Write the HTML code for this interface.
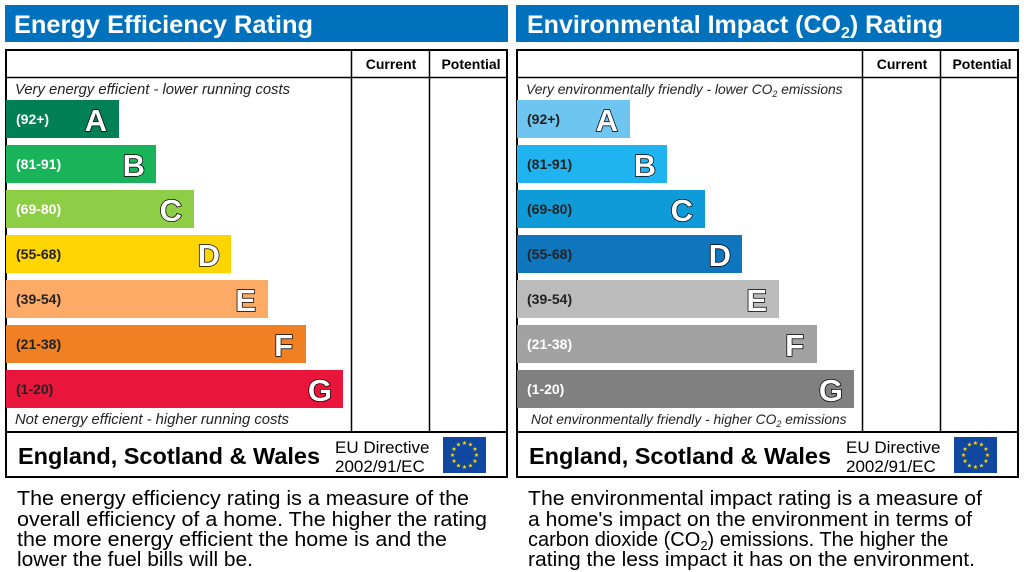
<!DOCTYPE html>
<html><head><style>body{margin:0;background:#fff}svg{display:block}</style></head><body>
<svg width="1024" height="572" viewBox="0 0 1024 572" xmlns="http://www.w3.org/2000/svg" font-family="Liberation Sans, Arial, sans-serif">
<defs>
<g id="eu"><rect width="43" height="36" fill="#0f47a1"/>
<g fill="#ffdd00" font-size="6" text-anchor="middle">
<text x="21.5" y="8">★</text><text x="27.5" y="9.6">★</text><text x="31.9" y="14">★</text><text x="33.5" y="20">★</text><text x="31.9" y="26">★</text><text x="27.5" y="30.4">★</text><text x="21.5" y="32">★</text><text x="15.5" y="30.4">★</text><text x="11.1" y="26">★</text><text x="9.5" y="20">★</text><text x="11.1" y="14">★</text><text x="15.5" y="9.6">★</text>
</g></g>
</defs>
<!-- LEFT -->
<g>
<rect x="5" y="5" width="503" height="37" fill="#0071bc"/>
<text x="14" y="33" fill="#fff" font-size="25" font-weight="bold" textLength="299" lengthAdjust="spacingAndGlyphs">Energy Efficiency Rating</text>
<rect x="6" y="50" width="501" height="427" fill="#fff" stroke="#000" stroke-width="2"/>
<line x1="6" y1="77.5" x2="507" y2="77.5" stroke="#000" stroke-width="1.5"/>
<line x1="351.5" y1="50" x2="351.5" y2="432" stroke="#000" stroke-width="1.5"/>
<line x1="429.5" y1="50" x2="429.5" y2="432" stroke="#000" stroke-width="1.5"/>
<line x1="6" y1="432" x2="507" y2="432" stroke="#000" stroke-width="2"/>
<text x="391" y="69" font-size="14" font-weight="bold" text-anchor="middle">Current</text>
<text x="471" y="69" font-size="14" font-weight="bold" text-anchor="middle">Potential</text>
<text x="15" y="94" font-size="14.8" font-style="italic" fill="#222">Very energy efficient - lower running costs</text>
<text x="15" y="424" font-size="14.8" font-style="italic" fill="#222">Not energy efficient - higher running costs</text>
<g font-weight="bold">
<rect x="6" y="100" width="113" height="38" fill="#008054"/><text x="16" y="124" font-size="14" fill="#fff">(92+)</text>
<rect x="6" y="145" width="150" height="38" fill="#19b459"/><text x="16" y="169" font-size="14" fill="#fff">(81-91)</text>
<rect x="6" y="190" width="188" height="38" fill="#8dce46"/><text x="16" y="214" font-size="14" fill="#fff">(69-80)</text>
<rect x="6" y="235" width="225" height="38" fill="#ffd500"/><text x="16" y="259" font-size="14" fill="#222">(55-68)</text>
<rect x="6" y="280" width="262" height="38" fill="#fcaa65"/><text x="16" y="304" font-size="14" fill="#222">(39-54)</text>
<rect x="6" y="325" width="300" height="38" fill="#ef8023"/><text x="16" y="349" font-size="14" fill="#222">(21-38)</text>
<rect x="6" y="370" width="337" height="38" fill="#e9153b"/><text x="16" y="394" font-size="14" fill="#222">(1-20)</text>
<g font-size="31" fill="#fff" stroke="#000" stroke-width="1.5" paint-order="stroke" text-anchor="end">
<text x="107" y="131">A</text><text x="145" y="176">B</text><text x="182" y="221">C</text><text x="220" y="266">D</text><text x="256" y="311">E</text><text x="293" y="356">F</text><text x="332" y="401">G</text>
</g></g>
<text x="18" y="464" font-size="23.5" font-weight="bold">England, Scotland &amp; Wales</text>
<text x="335" y="453" font-size="17">EU Directive</text>
<text x="335" y="472" font-size="17">2002/91/EC</text>
<use href="#eu" x="443" y="437"/>
<g font-size="20" fill="#000">
<text x="17" y="505" textLength="452" lengthAdjust="spacingAndGlyphs">The energy efficiency rating is a measure of the</text>
<text x="17" y="526" textLength="470" lengthAdjust="spacingAndGlyphs">overall efficiency of a home. The higher the rating</text>
<text x="17" y="546" textLength="430" lengthAdjust="spacingAndGlyphs">the more energy efficient the home is and the</text>
<text x="17" y="566" textLength="236" lengthAdjust="spacingAndGlyphs">lower the fuel bills will be.</text>
</g>
</g>
<!-- RIGHT -->
<g transform="translate(511,0)">
<rect x="5" y="5" width="503" height="37" fill="#0071bc"/>
<text x="16" y="33" fill="#fff" font-size="25" font-weight="bold">Environmental Impact (CO<tspan font-size="16" dy="5">2</tspan><tspan dy="-5">) Rating</tspan></text>
<rect x="6" y="50" width="501" height="427" fill="#fff" stroke="#000" stroke-width="2"/>
<line x1="6" y1="77.5" x2="507" y2="77.5" stroke="#000" stroke-width="1.5"/>
<line x1="351.5" y1="50" x2="351.5" y2="432" stroke="#000" stroke-width="1.5"/>
<line x1="429.5" y1="50" x2="429.5" y2="432" stroke="#000" stroke-width="1.5"/>
<line x1="6" y1="432" x2="507" y2="432" stroke="#000" stroke-width="2"/>
<text x="391" y="69" font-size="14" font-weight="bold" text-anchor="middle">Current</text>
<text x="471" y="69" font-size="14" font-weight="bold" text-anchor="middle">Potential</text>
<text x="15" y="94" font-size="13.8" font-style="italic" fill="#222">Very environmentally friendly - lower CO<tspan font-size="9" dy="3">2</tspan><tspan dy="-3"> emissions</tspan></text>
<text x="20" y="424" font-size="13.8" font-style="italic" fill="#222">Not environmentally friendly - higher CO<tspan font-size="9" dy="3">2</tspan><tspan dy="-3"> emissions</tspan></text>
<g font-weight="bold">
<rect x="6" y="100" width="113" height="38" fill="#6ec6f0"/><text x="16" y="124" font-size="14" fill="#222">(92+)</text>
<rect x="6" y="145" width="150" height="38" fill="#1fb3ef"/><text x="16" y="169" font-size="14" fill="#222">(81-91)</text>
<rect x="6" y="190" width="188" height="38" fill="#0e9bd8"/><text x="16" y="214" font-size="14" fill="#222">(69-80)</text>
<rect x="6" y="235" width="225" height="38" fill="#0f75bc"/><text x="16" y="259" font-size="14" fill="#222">(55-68)</text>
<rect x="6" y="280" width="262" height="38" fill="#bbbbbb"/><text x="16" y="304" font-size="14" fill="#222">(39-54)</text>
<rect x="6" y="325" width="300" height="38" fill="#a2a2a2"/><text x="16" y="349" font-size="14" fill="#fff">(21-38)</text>
<rect x="6" y="370" width="337" height="38" fill="#808080"/><text x="16" y="394" font-size="14" fill="#fff">(1-20)</text>
<g font-size="31" fill="#fff" stroke="#000" stroke-width="1.5" paint-order="stroke" text-anchor="end">
<text x="107" y="131">A</text><text x="145" y="176">B</text><text x="182" y="221">C</text><text x="220" y="266">D</text><text x="256" y="311">E</text><text x="293" y="356">F</text><text x="332" y="401">G</text>
</g></g>
<text x="18" y="464" font-size="23.5" font-weight="bold">England, Scotland &amp; Wales</text>
<text x="335" y="453" font-size="17">EU Directive</text>
<text x="335" y="472" font-size="17">2002/91/EC</text>
<use href="#eu" x="443" y="437"/>
<g font-size="20" fill="#000">
<text x="17" y="505" textLength="454" lengthAdjust="spacingAndGlyphs">The environmental impact rating is a measure of</text>
<text x="17" y="526" textLength="444" lengthAdjust="spacingAndGlyphs">a home's impact on the environment in terms of</text>
<text x="17" y="546">carbon dioxide (CO<tspan font-size="13" dy="4">2</tspan><tspan dy="-4">) emissions. The higher the</tspan></text>
<text x="17" y="566" textLength="447" lengthAdjust="spacingAndGlyphs">rating the less impact it has on the environment.</text>
</g>
</g>
</svg>
</body></html>
